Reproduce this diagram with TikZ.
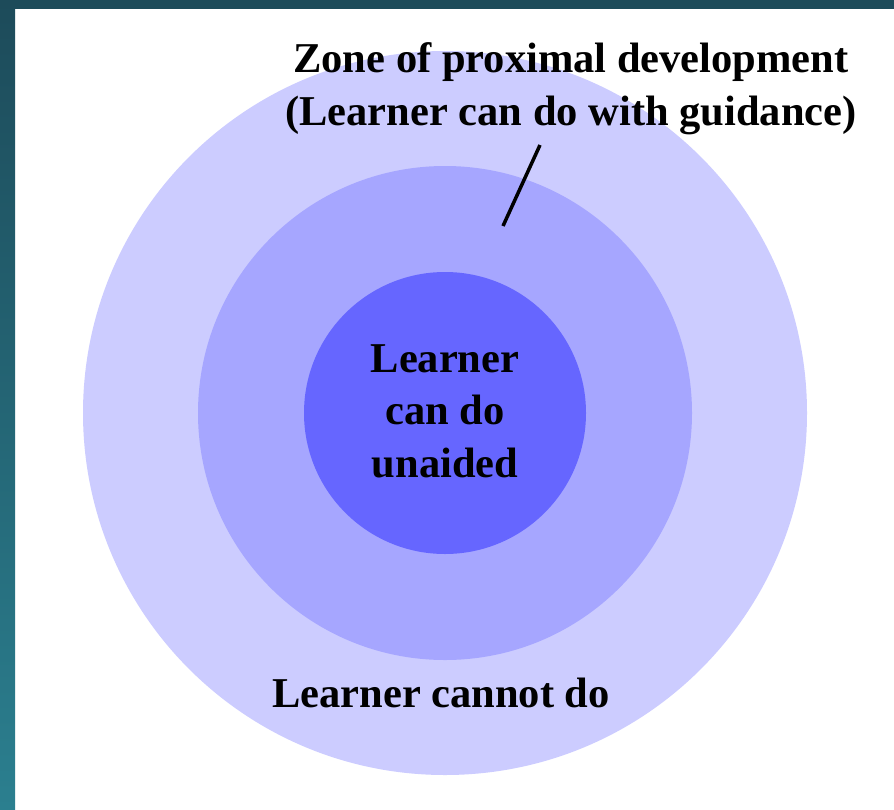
\documentclass[tikz,border=0pt]{standalone}
\usepackage{fontspec}
\setmainfont{Liberation Serif}
\definecolor{frameDark}{HTML}{1D4B5A}
\definecolor{frameLight}{HTML}{2B7F8F}
\definecolor{zoneOut}{HTML}{CCCCFF}
\definecolor{zoneMid}{HTML}{A6A6FF}
\definecolor{zoneIn}{HTML}{6666FF}
\tikzset{
  zonetext/.style={font=\fontsize{42.5}{52.5}\selectfont\bfseries, inner sep=0pt, align=center, anchor=base}
}
\begin{document}
\begin{tikzpicture}[x=1pt, y=-1pt]

% Draw the frame
\useasboundingbox (0,0) rectangle (894,809);
\fill[white] (0,0) rectangle (894,809);
\shade[top color=frameDark, bottom color=frameLight] (0,0) rectangle (15,809);
\fill[frameDark] (0,0) rectangle (894,9);

% the three zones
\coordinate (c) at (445,413);
\fill[zoneOut] (c) circle[radius=362];
\fill[zoneMid] (c) circle[radius=247];
\fill[zoneIn] (c) circle[radius=141];

% labels (base = last line)
\node[zonetext] (zpd) at (571,125) {Zone of proximal development\\(Learner can do with guidance)};
\node[zonetext] (unaided) at (445,477) {Learner\\can do\\unaided};
\node[zonetext] (cannot) at (441,707) {Learner cannot do};

% pointer
\coordinate (tip) at (503,226);
\coordinate (tail) at (540,145);
\draw[line width=3.5pt] (tail) -- (tip);
\end{tikzpicture}
\end{document}
